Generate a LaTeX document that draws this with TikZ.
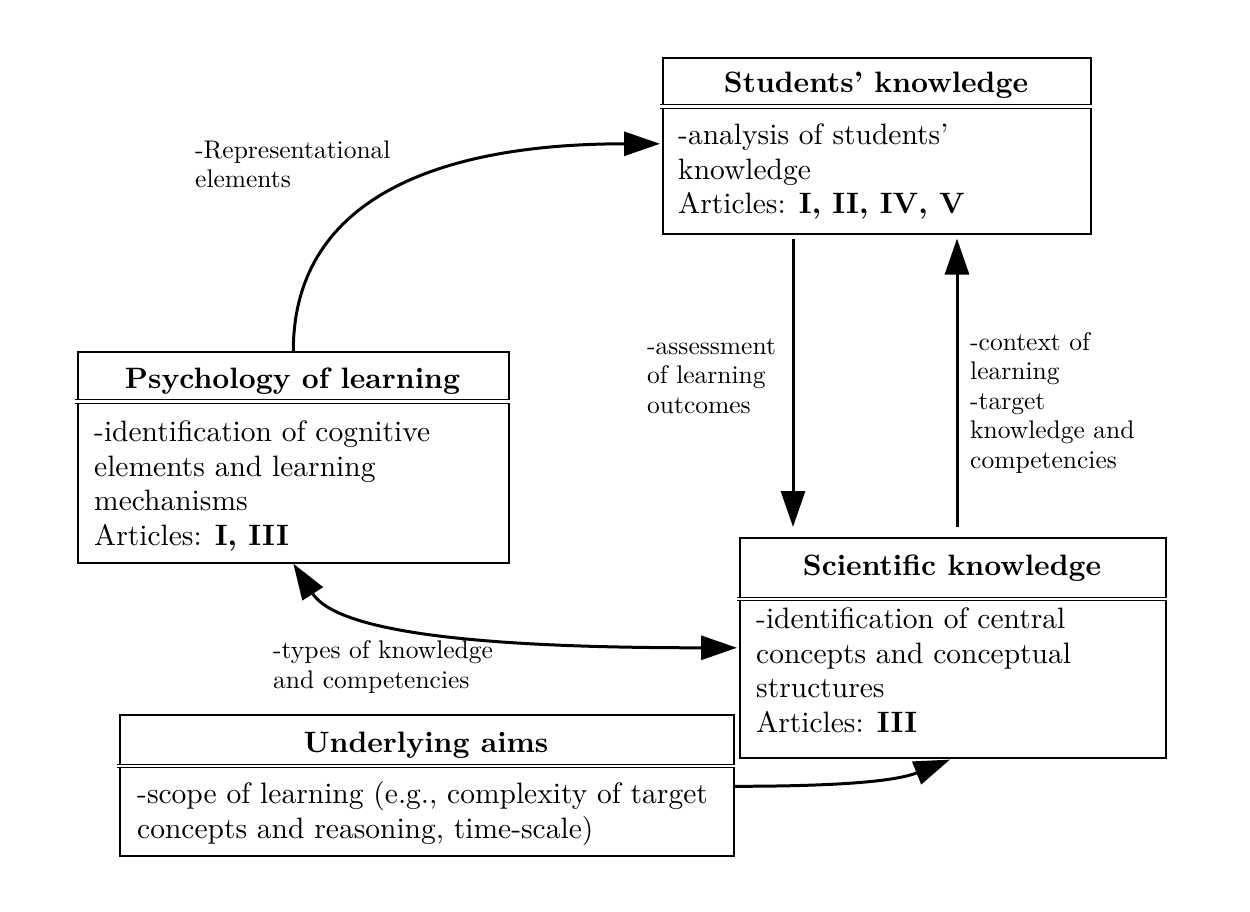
\documentclass[tikz,border=0pt]{standalone}
\usepackage{fontspec}
\setmainfont{lmroman10-regular.otf}[BoldFont=lmroman10-bold.otf]
\usetikzlibrary{arrows.meta}
\begin{document}
\begin{tikzpicture}[x=1pt,y=-1pt,
  box/.style={draw=black, line width=1.6pt, rectangle, inner sep=0pt, anchor=north west},
  dbl/.style={draw=black, double=white, double distance=2.2pt, line width=1.1pt},
  titletext/.style={inner sep=0pt, anchor=base, font=\fontsize{29.5}{34.5}\selectfont\bfseries},
  bodytext/.style={inner sep=0pt, anchor=base west, align=left, font=\fontsize{29.5}{34.5}\selectfont},
  lbl/.style={inner sep=0pt, anchor=base west, align=left, font=\fontsize{25.5}{29.5}\selectfont},
  arr/.style={line width=3pt, -{Triangle[length=36pt,width=24pt]}},
  darr/.style={line width=3pt, {Triangle[length=36pt,width=24pt]}-{Triangle[length=36pt,width=24pt]}}
]
\useasboundingbox[fill=white] (0,0) rectangle (1250,912);

% Students' knowledge
\node[box, minimum width=428pt, minimum height=176pt] (stu) at (662,57) {};
\node[titletext] (stuT) at (876,93) {Students’ knowledge};
\draw[dbl] (660,106.5) -- (1092,106.5);
\node[bodytext] (stuB) at (678,214) {-analysis of students’\\knowledge\\Articles: \textbf{I, II, IV, V}};

% Psychology of learning
\node[box, minimum width=431pt, minimum height=211pt] (psy) at (77,351) {};
\node[titletext] (psyT) at (292.5,388) {Psychology of learning};
\draw[dbl] (75,401.5) -- (510,401.5);
\node[bodytext] (psyB) at (94,545) {-identification of cognitive\\elements and learning\\mechanisms\\Articles: \textbf{I, III}};

% Scientific knowledge
\node[box, minimum width=426pt, minimum height=220pt] (sci) at (739,537) {};
\node[titletext] (sciT) at (952,575) {Scientific knowledge};
\draw[dbl] (737,599) -- (1167,599);
\node[bodytext] (sciB) at (756,732) {-identification of central\\concepts and conceptual\\structures\\Articles: \textbf{III}};

% Underlying aims
\node[box, minimum width=614pt, minimum height=141pt] (und) at (119,714) {};
\node[titletext] (undT) at (426,752) {Underlying aims};
\draw[dbl] (117,766) -- (735,766);
\node[bodytext] (undB) at (137,838) {-scope of learning (e.g., complexity of target\\concepts and reasoning, time-scale)};

% labels
\node[lbl] (rep) at (195,188) {-Representational\\elements};
\node[lbl] (ass) at (647,413) {-assessment\\of learning\\outcomes};
\node[lbl] (ctx) at (970,468) {-context of\\learning\\-target\\knowledge and\\competencies};
\node[lbl] (typ) at (273,688) {-types of knowledge\\and competencies};

% connectors
\draw[arr] (psy.north) .. controls +(0,-148) and +(-230,0) .. ([xshift=-2pt,yshift=2pt]stu.west);
\draw[arr] ([xshift=131pt,yshift=-4pt]stu.south west) -- ([xshift=54pt,yshift=10pt]sci.north west);
\draw[arr] ([xshift=218pt,yshift=10pt]sci.north west) -- ([xshift=295pt,yshift=-4pt]stu.south west);
\draw[darr] (psy.south) .. controls +(45,70) and +(-250,0) .. ([xshift=-2pt]sci.west);
\draw[arr] ([yshift=-1pt]und.east) .. controls +(120,0) and +(-50,20) .. ([xshift=211pt,yshift=-1pt]sci.south west);
\end{tikzpicture}
\end{document}
